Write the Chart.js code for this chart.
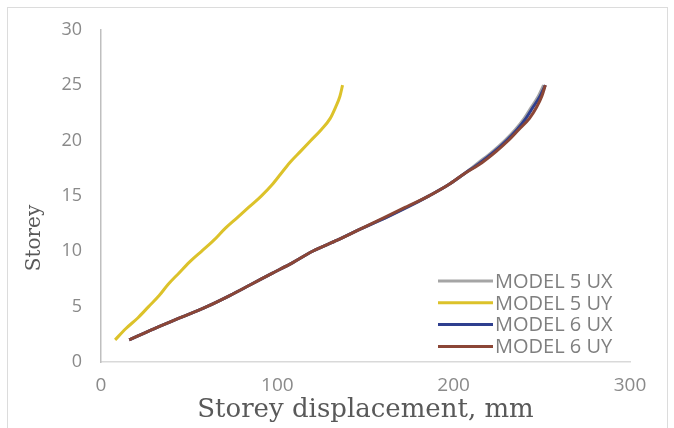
<!DOCTYPE html>
<html>
<head>
<meta charset="utf-8">
<script src="https://cdn.jsdelivr.net/npm/chart.js@4.4.1/dist/chart.umd.min.js"></script>
<style>
  html, body { margin: 0; padding: 0; background: #fff; }
  #wrap { position: relative; width: 674px; height: 428px; overflow: hidden; }
  #frame { position: absolute; left: 7px; top: 7px; width: 659px; height: 440px;
           border: 1px solid #dcdcdc; pointer-events: none; }
</style>
</head>
<body>
<div id="wrap">
  <canvas id="driftChart"></canvas>
  <div id="frame"></div>
</div>
<script>
// storey numbers (y) and displacements in mm (x)
const storeys = [2, 3, 4, 5, 6, 7, 8, 9, 10, 11, 12, 13, 14, 15, 16, 17, 18, 19, 20, 21, 22, 23, 24, 25];
const model5UX = [16, 30, 45, 60, 73, 85, 97, 109, 120, 134, 147, 161, 174, 186, 197, 206, 214, 222, 229, 235, 240, 244, 248, 251];
const model5UY = [8, 14, 21, 27, 33, 38, 44, 50, 57, 64, 70, 77, 84, 91, 97, 102, 107, 113, 119, 125, 130, 133, 135.5, 137];
const model6UX = [16, 30, 45, 60, 73, 85, 97, 109, 120, 134, 147, 161, 174, 186, 197, 206, 215, 223, 230, 236, 241, 245, 249, 252];
const model6UY = [16, 30, 45, 60, 73, 85, 97, 109, 120, 134, 147, 160, 173, 186, 197, 206, 216, 224, 231, 237, 243, 247, 250, 252];

const seriesNames = ['MODEL 5 UX', 'MODEL 5 UY', 'MODEL 6 UX', 'MODEL 6 UY'];
const seriesColors = ['#a5a5a5', '#dcc22a', '#2f3f8f', '#8b4636'];
const xTicks = [0, 100, 200, 300];
const yTicks = [0, 5, 10, 15, 20, 25, 30];

function toPoints(xs) {
    return xs.map((v, i) => ({ x: v, y: storeys[i] }));
}

const allSeries = [model5UX, model5UY, model6UX, model6UY];
const datasets = allSeries.map((vals, i) => ({
    label: seriesNames[i],
    data: toPoints(vals),
    borderColor: seriesColors[i],
    backgroundColor: seriesColors[i],
    borderWidth: 3,
    pointRadius: 0,
    showLine: true,
    cubicInterpolationMode: 'monotone',
    order: 4 - i   // later series on top, like the original
}));

// legend sits inside the plot, bottom right
const insideLegend = {
    id: 'insideLegend',
    afterDraw(chart) {
        const ctx = chart.ctx;
        ctx.save();
        ctx.font = '20px "Open Sans"';
        ctx.textBaseline = 'middle';
        ctx.textAlign = 'left';
        chart.data.datasets.forEach((ds, i) => {
            const y = 281 + i * 21.8;
            ctx.strokeStyle = ds.borderColor;
            ctx.lineWidth = 3;
            ctx.beginPath();
            ctx.moveTo(438, y);
            ctx.lineTo(493, y);
            ctx.stroke();
            ctx.fillStyle = '#7f7f7f';
            ctx.fillText(ds.label, 495, y + 1);
        });
        // y axis title, placed a bit below centre as in the original
        ctx.translate(35, 238);
        ctx.rotate(-Math.PI / 2);
        ctx.textAlign = 'center';
        ctx.font = '20px "DejaVu Serif"';
        ctx.fillStyle = '#595959';
        ctx.fillText('Storey', 0, 0);
        ctx.restore();
    }
};

const ctx = document.getElementById('driftChart').getContext('2d');
new Chart(ctx, {
    type: 'scatter',
    data: { datasets: datasets },
    options: {
        responsive: true,
        maintainAspectRatio: false,
        animation: false,
        layout: { padding: { top: 22, right: 44, left: 0, bottom: 0 } },
        plugins: {
            legend: { display: false },
            tooltip: { enabled: false }
        },
        scales: {
            x: {
                type: 'linear',
                min: 0,
                max: 300,
                afterFit: s => { s.height = 66; },
                afterBuildTicks: s => { s.ticks = xTicks.map(v => ({ value: v })); },
                grid: { display: false, drawTicks: false },
                border: { display: true, color: '#d9d9d9', width: 1.5 },
                ticks: { color: '#8a8a8a', font: { family: 'Open Sans', size: 19 }, padding: 12 },
                title: {
                    display: true,
                    text: 'Storey displacement, mm',
                    color: '#595959',
                    font: { family: 'DejaVu Serif', size: 26 },
                    padding: { top: 0, bottom: 2 }
                }
            },
            y: {
                type: 'linear',
                min: 0,
                max: 30,
                afterFit: s => { s.width = 101; },
                afterBuildTicks: s => { s.ticks = yTicks.map(v => ({ value: v })); },
                grid: { display: false, drawTicks: false },
                border: { display: true, color: '#bfbfbf', width: 1.5 },
                ticks: { color: '#8a8a8a', font: { family: 'Open Sans', size: 18 }, padding: 19 }
            }
        }
    },
    plugins: [insideLegend]
});
</script>
</body>
</html>
